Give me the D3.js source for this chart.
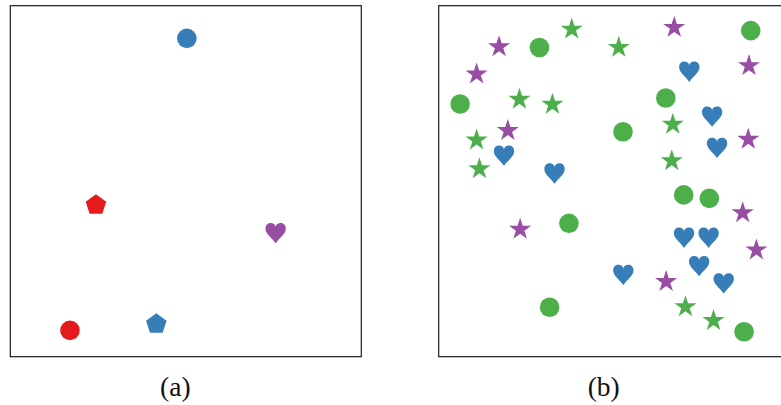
<!DOCTYPE html>
<html>
<head>
<meta charset="utf-8">
<script src="https://cdn.jsdelivr.net/npm/d3@7"></script>
<style>
  html, body { margin: 0; padding: 0; background: #fff; }
  svg { display: block; }
</style>
</head>
<body>
<svg id="chart" width="781" height="405"></svg>
<script>
// Panel captions
const panelLabels = ["(a)", "(b)"];

// Panel (a): a few labelled points
const aShape = ["circle", "pentagon", "heart", "circle", "pentagon"];
const aColor = ["blue", "red", "purple", "red", "blue"];
const aX = [0.503, 0.244, 0.756, 0.170, 0.416];
const aY = [0.907, 0.432, 0.352, 0.075, 0.093];

// Panel (b): the full point cloud
const bShape = [
  "star", "circle", "star", "star", "star", "circle", "star", "heart", "star", "circle",
  "star", "star", "circle", "heart", "star", "star", "circle", "star", "star", "heart",
  "heart", "star", "star", "heart", "circle", "circle", "star", "star", "circle", "heart",
  "heart", "star", "heart", "heart", "star", "heart", "star", "circle", "star", "circle"
];
const bColor = [
  "purple", "green", "green", "green", "purple", "green", "purple", "blue", "purple", "green",
  "green", "green", "green", "blue", "green", "purple", "green", "purple", "green", "blue",
  "blue", "green", "green", "blue", "green", "green", "purple", "purple", "green", "blue",
  "blue", "purple", "blue", "blue", "purple", "blue", "green", "green", "green", "green"
];
const bX = [
  0.172, 0.287, 0.379, 0.513, 0.671, 0.889, 0.108, 0.714, 0.884, 0.061,
  0.230, 0.324, 0.647, 0.779, 0.667, 0.197, 0.525, 0.882, 0.108, 0.793,
  0.186, 0.664, 0.116, 0.330, 0.698, 0.771, 0.866, 0.232, 0.371, 0.699,
  0.769, 0.905, 0.742, 0.526, 0.648, 0.812, 0.703, 0.316, 0.783, 0.870
];
const bY = [
  0.883, 0.881, 0.933, 0.881, 0.938, 0.929, 0.805, 0.812, 0.829, 0.720,
  0.733, 0.719, 0.737, 0.684, 0.662, 0.644, 0.641, 0.619, 0.617, 0.595,
  0.573, 0.558, 0.535, 0.522, 0.461, 0.451, 0.410, 0.363, 0.380, 0.339,
  0.339, 0.304, 0.258, 0.233, 0.214, 0.209, 0.142, 0.141, 0.103, 0.071
];

// Qualitative palette (ColorBrewer Set1)
const palette = d3.scaleOrdinal()
  .domain(["red", "blue", "green", "purple"])
  .range(["#e41a1c", "#377eb8", "#4daf4a", "#984ea3"]);

// Custom marker types; "size" is the marker's outer radius in px
const pentagonType = {
  draw(ctx, r) {
    for (let i = 0; i < 5; i++) {
      const a = -Math.PI / 2 + i * 2 * Math.PI / 5;
      const x = r * Math.cos(a), y = r * Math.sin(a);
      i ? ctx.lineTo(x, y) : ctx.moveTo(x, y);
    }
    ctx.closePath();
  }
};
const starType = {
  draw(ctx, r) {
    const ri = r * 0.382;
    for (let i = 0; i < 10; i++) {
      const a = -Math.PI / 2 + i * Math.PI / 5;
      const rr = i % 2 ? ri : r;
      const x = rr * Math.cos(a), y = rr * Math.sin(a);
      i ? ctx.lineTo(x, y) : ctx.moveTo(x, y);
    }
    ctx.closePath();
  }
};
const circleType = {
  draw(ctx, r) {
    ctx.moveTo(r, 0);
    ctx.arc(0, 0, r, 0, 2 * Math.PI);
  }
};
const heartType = {
  draw(ctx, r) {
    const s = r;
    ctx.moveTo(0, -0.55 * s);
    ctx.bezierCurveTo(0, -0.9 * s, -0.3 * s, -s, -0.5 * s, -s);
    ctx.bezierCurveTo(-0.82 * s, -s, -s, -0.75 * s, -s, -0.45 * s);
    ctx.bezierCurveTo(-s, 0.1 * s, -0.35 * s, 0.5 * s, 0, s);
    ctx.bezierCurveTo(0.35 * s, 0.5 * s, s, 0.1 * s, s, -0.45 * s);
    ctx.bezierCurveTo(s, -0.75 * s, 0.82 * s, -s, 0.5 * s, -s);
    ctx.bezierCurveTo(0.3 * s, -s, 0, -0.9 * s, 0, -0.55 * s);
    ctx.closePath();
  }
};
const markerType = { circle: circleType, pentagon: pentagonType, star: starType, heart: heartType };
const markerSize = { circle: 9.8, pentagon: 10.8, star: 11.6, heart: 10.2 };

const svg = d3.select("#chart");
const panelSide = 351;
const panelTop = 5.7;

function drawPanel(left, shapes, colors, xs, ys, label) {
  const x = d3.scaleLinear().domain([0, 1]).range([left, left + panelSide]);
  const y = d3.scaleLinear().domain([0, 1]).range([panelTop + panelSide, panelTop]);
  const g = svg.append("g");

  g.append("rect")
    .attr("x", x(0)).attr("y", y(1))
    .attr("width", x(1) - x(0)).attr("height", y(0) - y(1))
    .attr("fill", "none")
    .attr("stroke", "#1a1a1a")
    .attr("stroke-width", 1.2);

  const pts = shapes.map((s, i) => ({ shape: s, color: colors[i], x: xs[i], y: ys[i] }));
  g.selectAll("path.mark")
    .data(pts)
    .join("path")
    .attr("class", "mark")
    .attr("transform", d => `translate(${x(d.x)},${y(d.y)})`)
    .attr("d", d => d3.symbol(markerType[d.shape], markerSize[d.shape])())
    .attr("fill", d => palette(d.color));

  g.append("text")
    .attr("x", (x(0) + x(1)) / 2 - 10.5)
    .attr("y", 396)
    .attr("text-anchor", "middle")
    .attr("font-family", "'Liberation Serif', 'DejaVu Serif', serif")
    .attr("font-size", 27.5)
    .attr("fill", "#111")
    .text(label);
}

drawPanel(10.3, aShape, aColor, aX, aY, panelLabels[0]);
drawPanel(438.7, bShape, bColor, bX, bY, panelLabels[1]);
</script>
</body>
</html>
